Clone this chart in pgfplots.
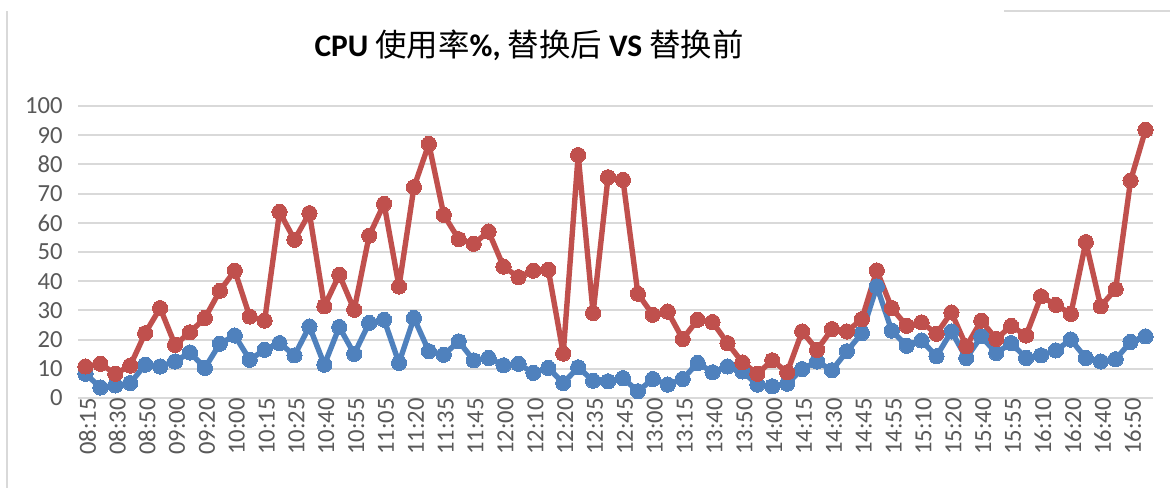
\documentclass[border=0pt]{standalone}
\usepackage{pgfplots}
\pgfplotsset{compat=1.18}
\usepackage{pgfplotstable}
\usepackage{fontspec}
\setmainfont{Carlito}
\newfontfamily\cjk{Noto Sans CJK SC}
\definecolor{cred}{HTML}{C0504D}
\definecolor{cblue}{HTML}{4F81BD}
\definecolor{gridc}{HTML}{D9D9D9}
\definecolor{tickc}{HTML}{595959}

\pgfplotstableread{
v
10.8
11.7
8.3
11.1
22.2
30.8
18.2
22.5
27.4
36.7
43.6
27.9
26.5
63.7
54.2
63.3
31.4
42.2
30.2
55.6
66.5
38.2
72.2
87.0
62.7
54.4
52.8
57.0
45.0
41.4
43.6
43.9
15.2
83.2
29.1
75.6
74.7
35.7
28.5
29.6
20.2
26.8
26.0
18.8
12.2
8.3
12.9
8.8
22.8
16.5
23.6
22.8
27.0
43.7
30.8
24.7
25.9
22.0
29.3
17.7
26.5
20.2
24.7
21.4
34.8
31.9
28.8
53.4
31.4
37.3
74.5
91.8
}\redtab

\pgfplotstableread{
v
8.3
3.6
4.3
5.1
11.4
10.8
12.5
15.6
10.3
18.6
21.4
13.1
16.5
18.8
14.6
24.5
11.4
24.3
15.1
25.7
26.8
12.0
27.4
16.0
14.8
19.4
12.9
13.7
11.2
11.7
8.6
10.3
5.1
10.5
5.9
5.7
6.8
2.3
6.5
4.6
6.5
12.0
8.8
10.8
9.1
4.6
4.0
4.9
9.9
12.5
9.5
16.0
22.2
38.2
23.1
17.9
19.7
14.3
22.8
13.7
21.1
15.4
18.8
13.7
14.6
16.3
20.0
13.7
12.5
13.3
19.2
21.1
}\bluetab

\begin{document}
\begin{tikzpicture}
\useasboundingbox (0,0) rectangle (585bp,244bp);
\fill[white] (0,0) rectangle (585bp,244bp);
\draw[gridc, line width=1bp] (3.5bp,0) -- (3.5bp,238.5bp);
\draw[gridc, line width=1bp] (502bp,238.5bp) -- (585bp,238.5bp);
\begin{axis}[
  at={(39bp,45bp)}, anchor=south west,
  width=537.5bp, height=146bp, scale only axis,
  xmin=-0.5, xmax=71.5, ymin=0, ymax=100,
  ytick={0,10,...,100},
  xtick={0,2,...,70},
  xticklabels={08:15,08:30,08:50,09:00,09:20,10:00,10:15,10:25,10:40,10:55,11:05,11:20,11:35,11:45,12:00,12:10,12:20,12:35,12:45,13:00,13:15,13:40,13:50,14:00,14:15,14:30,14:45,14:55,15:10,15:20,15:40,15:55,16:10,16:20,16:40,16:50},
  axis line style={draw=none},
  major tick style={draw=none},
  ymajorgrids, grid style={gridc, line width=1bp},
  /pgf/number format/assume math mode=true,
  ticklabel style={font=\fontsize{12.3bp}{14bp}\selectfont, text=tickc},
  xticklabel style={rotate=90, anchor=east, inner sep=0pt, yshift=-1bp},
  yticklabel style={anchor=east, inner sep=0pt, xshift=-7.5bp},
  clip=false,
]
\addplot[cblue, line width=2.7bp, line join=round, line cap=round, mark=*, mark size=3.8bp, mark options={fill=cblue, draw=cblue, line width=0pt}] table[x expr=\coordindex, y=v] {\bluetab};
\addplot[cred, line width=2.7bp, line join=round, line cap=round, mark=*, mark size=3.8bp, mark options={fill=cred, draw=cred, line width=0pt}] table[x expr=\coordindex, y=v] {\redtab};
\end{axis}
\node[anchor=center, inner sep=0pt] at (264.5bp,221.5bp) {\fontsize{15.7bp}{18bp}\selectfont\bfseries CPU {\cjk\mdseries 使用率}\%, {\cjk\mdseries 替换后} VS {\cjk\mdseries 替换前}};
\end{tikzpicture}
\end{document}
